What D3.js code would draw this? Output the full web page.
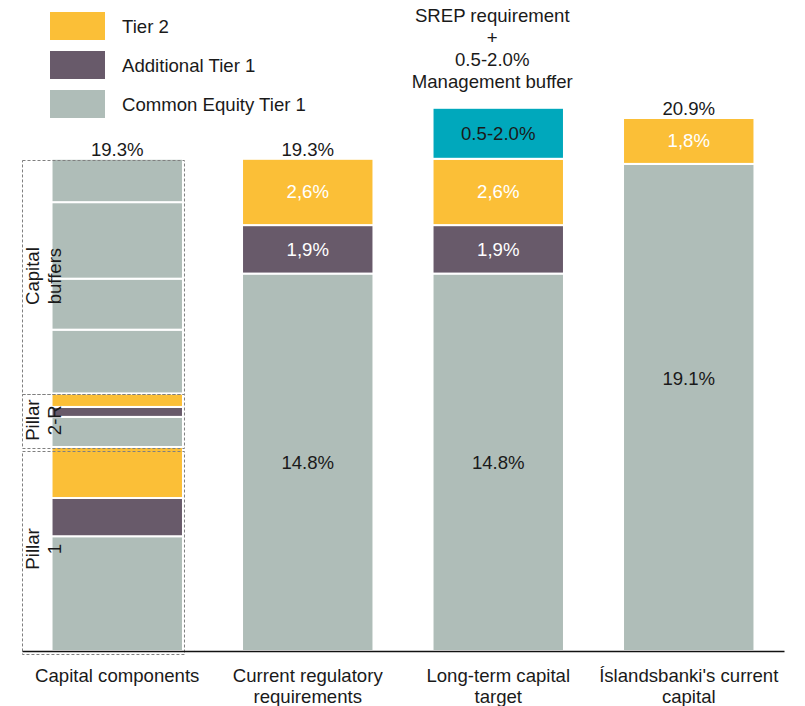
<!DOCTYPE html>
<html>
<head>
<meta charset="utf-8">
<script src="https://cdn.jsdelivr.net/npm/d3@7"></script>
<style>
  body { margin: 0; background: #fff; }
  text { font-family: 'Liberation Sans', Arial, sans-serif; }
</style>
</head>
<body>
<div id="chart"></div>
<script>
// Bars, left to right
const categories = ['Capital components', 'Current regulatory requirements', 'Long-term capital target', "Íslandsbanki's current capital"];
const categoryLines = [['Capital components'], ['Current regulatory', 'requirements'], ['Long-term capital', 'target'], ["Íslandsbanki's current", 'capital']];

// Stacked values (%) for the three right bars
const cet1 = [0, 14.8, 14.8, 19.1];
const at1 = [0, 1.9, 1.9, 0];
const tier2 = [0, 2.6, 2.6, 1.8];
const mgmtBuffer = [0, 0, 2.0, 0];
const cet1Labels = ['', '14.8%', '14.8%', '19.1%'];
const at1Labels = ['', '1,9%', '1,9%', ''];
const tier2Labels = ['', '2,6%', '2,6%', '1,8%'];
const mgmtLabels = ['', '', '0.5-2.0%', ''];
const totals = [19.3, 19.3, null, 20.9];
const totalLabels = ['19.3%', '19.3%', '', '20.9%'];

// Capital components bar: CET1, AT1, T2 for the pillars, then CET1 buffers
const pillar1Values = [4.5, 1.5, 2.0];
const pillar2RValues = [1.18, 0.39, 0.53];
const bufferValues = [2.5, 2.0, 3.0, 1.7];
const groupLabels = [['Pillar', '1'], ['Pillar', '2-R'], ['Capital', 'buffers']];

const legendLabels = ['Tier 2', 'Additional Tier 1', 'Common Equity Tier 1'];
const srepNote = ['SREP requirement', '+', '0.5-2.0%', 'Management buffer'];

const colors = { t2: '#fbbf37', at1: '#685a6a', cet1: '#afbdb8', mgmt: '#00a8bc' };
const legendKeys = ['t2', 'at1', 'cet1'];

const width = 805;
const height = 706;
const fontSize = '18.6px';

const svg = d3
  .select('#chart')
  .append('svg')
  .attr('width', width)
  .attr('height', height);

const x = d3
  .scaleBand()
  .domain(categories)
  .range([22, 784])
  .paddingInner(0.31)
  .paddingOuter(0.155);
const y = d3.scaleLinear().domain([0, 20.9]).range([651, 118]);

// Build the stacked segments
const segments = [];
const groups = [];
categories.forEach((cat, i) => {
  let base = 0;
  const push = (key, v, label) => {
    if (!v) return;
    segments.push({ cat, key, y0: base, y1: base + v, label: label || '' });
    base += v;
  };
  if (i === 0) {
    [pillar1Values, pillar2RValues].forEach((vals, g) => {
      const start = base;
      push('cet1', vals[0]);
      push('at1', vals[1]);
      push('t2', vals[2]);
      groups.push({ lo: start, hi: base, lines: groupLabels[g] });
    });
    const start = base;
    bufferValues.forEach(v => push('cet1', v));
    groups.push({ lo: start, hi: base, lines: groupLabels[2] });
  } else {
    push('cet1', cet1[i], cet1Labels[i]);
    push('at1', at1[i], at1Labels[i]);
    push('t2', tier2[i], tier2Labels[i]);
    push('mgmt', mgmtBuffer[i], mgmtLabels[i]);
  }
});

// Bars
svg
  .append('g')
  .selectAll('rect')
  .data(segments)
  .join('rect')
  .attr('x', d => x(d.cat))
  .attr('width', x.bandwidth())
  .attr('y', d => y(d.y1))
  .attr('height', d => y(d.y0) - y(d.y1))
  .attr('fill', d => colors[d.key])
  .attr('stroke', '#fff')
  .attr('stroke-width', 2);

// Labels inside segments
svg
  .append('g')
  .selectAll('text')
  .data(segments.filter(d => d.label))
  .join('text')
  .attr('x', d => x(d.cat) + x.bandwidth() / 2)
  .attr('y', d => {
    const mid = (y(d.y0) + y(d.y1)) / 2;
    // the current-capital CET1 label sits higher than the middle
    return d.key === 'cet1' && d.y1 > 19 ? mid - 29 : mid;
  })
  .attr('dy', '0.35em')
  .attr('text-anchor', 'middle')
  .attr('font-size', fontSize)
  .attr('fill', d => (d.key === 't2' || d.key === 'at1' ? '#fff' : '#1a1a1a'))
  .text(d => d.label);

// Totals above bars
svg
  .append('g')
  .selectAll('text')
  .data(categories.filter((c, i) => totals[i] !== null))
  .join('text')
  .attr('x', d => x(d) + x.bandwidth() / 2)
  .attr('y', d => y(totals[categories.indexOf(d)]) - 3)
  .attr('text-anchor', 'middle')
  .attr('font-size', fontSize)
  .attr('fill', '#1a1a1a')
  .text(d => totalLabels[categories.indexOf(d)]);

// Dashed boxes round the capital components
const boxLeft = 22;
const boxRight = x(categories[0]) + x.bandwidth() + 1;
const boxes = svg.append('g');
boxes
  .selectAll('rect')
  .data(groups)
  .join('rect')
  .attr('x', boxLeft + 0.5)
  .attr('width', boxRight - boxLeft)
  .attr('y', d => Math.round(y(d.hi)) + 1.5 + (d.lo === 0 ? 3 : 0))
  .attr('height', d => Math.round(y(d.lo)) - Math.round(y(d.hi)) - (d.lo === 0 ? 1 : 0))
  .attr('fill', 'none')
  .attr('stroke', '#808080')
  .attr('stroke-width', 1)
  .attr('stroke-dasharray', '3,2');

boxes
  .selectAll('text')
  .data(groups)
  .join('text')
  .attr('transform', d => 'translate(0,' + (y(d.lo) + y(d.hi)) / 2 + ') rotate(-90)')
  .attr('text-anchor', 'middle')
  .attr('font-size', fontSize)
  .attr('fill', '#1a1a1a')
  .selectAll('tspan')
  .data(d => d.lines)
  .join('tspan')
  .attr('x', 0)
  .attr('y', (d, i) => 39 + i * 22)
  .text(d => d);

// X-axis
const xAxis = svg
  .append('g')
  .attr('transform', 'translate(0,' + y(0) + ')')
  .call(d3.axisBottom(x).tickSize(0));
xAxis.select('.domain').attr('stroke', '#111').attr('stroke-width', 1.5);
xAxis
  .selectAll('.tick text')
  .attr('font-size', fontSize)
  .attr('font-family', null)
  .attr('fill', '#1a1a1a')
  .attr('dy', null)
  .text(null)
  .selectAll('tspan')
  .data(d => categoryLines[categories.indexOf(d)])
  .join('tspan')
  .attr('x', 0)
  .attr('y', (d, i) => 31 + i * 21)
  .text(d => d);

// SREP note above the long-term target bar
svg
  .append('text')
  .attr('text-anchor', 'middle')
  .attr('font-size', fontSize)
  .attr('fill', '#1a1a1a')
  .selectAll('tspan')
  .data(srepNote)
  .join('tspan')
  .attr('x', x(categories[2]) + x.bandwidth() / 2 - 6)
  .attr('y', (d, i) => 22 + i * 22)
  .text(d => d);

// Legend
const legend = svg
  .append('g')
  .selectAll('g')
  .data(legendLabels)
  .join('g')
  .attr('transform', (d, i) => 'translate(50,' + (12 + i * 39) + ')');
legend
  .append('rect')
  .attr('width', 55)
  .attr('height', 28)
  .attr('fill', (d, i) => colors[legendKeys[i]]);
legend
  .append('text')
  .attr('x', 72)
  .attr('y', 14)
  .attr('dy', '0.35em')
  .attr('font-size', fontSize)
  .attr('fill', '#1a1a1a')
  .text(d => d);
</script>
</body>
</html>
